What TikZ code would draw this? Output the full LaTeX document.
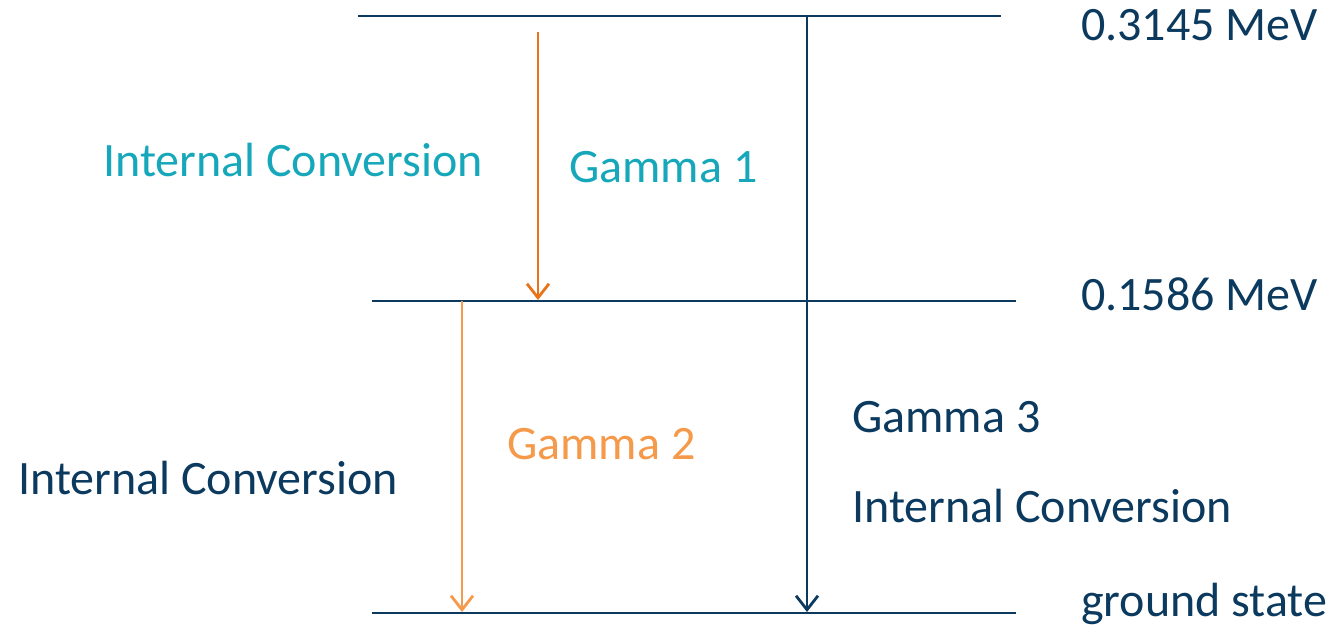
\documentclass[tikz,border=0pt]{standalone}
\usepackage{fontspec}
\setmainfont{Carlito}
\usetikzlibrary{arrows.meta}
\definecolor{navy}{HTML}{0B3A5E}
\definecolor{teal}{HTML}{16A8BA}
\definecolor{darkorange}{HTML}{E8731A}
\definecolor{lightorange}{HTML}{F5994A}
\begin{document}
\begin{tikzpicture}[x=1pt,y=-1pt,
  level/.style={draw=navy,line width=2.6pt},
  trans/.style={line width=2.8pt,-{Straight Barb[length=14pt,width=22pt,line width=2.8pt]}},
  lbl/.style={anchor=base west,inner sep=0pt,font=\fontsize{48}{56}\selectfont}]
\useasboundingbox (0,0) rectangle (1334,630);
% energy levels
\coordinate (l3a) at (358,16);  \coordinate (l3b) at (1001,16);
\coordinate (l2a) at (372,301); \coordinate (l2b) at (1016,301);
\coordinate (l1a) at (372,613); \coordinate (l1b) at (1016,613);
\draw[level] (l3a) -- (l3b);
\draw[level] (l2a) -- (l2b);
\draw[level] (l1a) -- (l1b);
% transition end points
\coordinate (g1s) at (538,32);  \coordinate (g1e) at (538,300);
\coordinate (g2s) at (462,301); \coordinate (g2e) at (462,612);
\coordinate (g3s) at (807,16);  \coordinate (g3e) at (807,612);
\draw[trans,darkorange] (g1s) -- (g1e);
\draw[trans,lightorange] (g2s) -- (g2e);
\draw[trans,navy] (g3s) -- (g3e);
% level energies
\node[lbl,navy] (e3) at (1081,40) {0.3145 MeV};
\node[lbl,navy] (e2) at (1081,310) {0.1586 MeV};
\node[lbl,navy] (e1) at (1081,616) {ground state};
% transition labels
\node[lbl,teal] (ic1) at (103,176) {Internal Conversion};
\node[lbl,teal] (gm1) at (569,182) {Gamma 1};
\node[lbl,lightorange] (gm2) at (507,459) {Gamma 2};
\node[lbl,navy] (ic2) at (18,494) {Internal Conversion};
\node[lbl,navy] (gm3) at (852,432) {Gamma 3};
\node[lbl,navy] (ic3) at (852,522) {Internal Conversion};
\end{tikzpicture}
\end{document}
